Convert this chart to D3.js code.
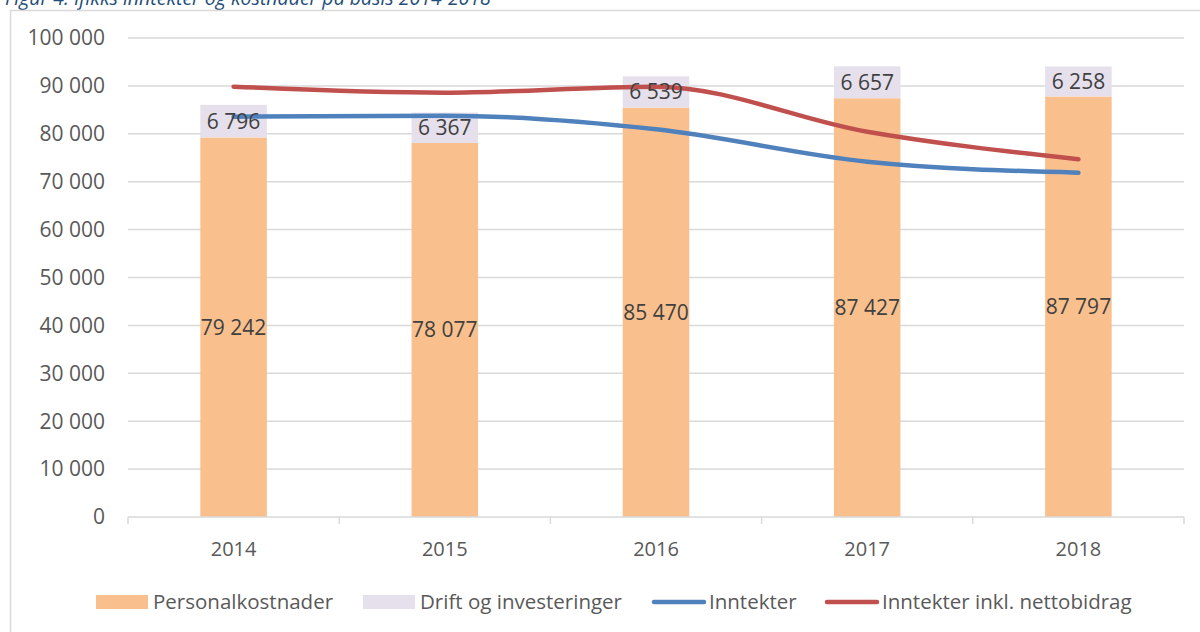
<!doctype html>
<head>
  <title>Ifikks inntekter og kostnader</title>
</head>
<style>
  body { margin: 0; background: #fff; }
  svg text { font-family: "Open Sans", sans-serif; }
</style>
<body>
  <script src="https://d3js.org/d3.v7.min.js"></script>
  <svg id="chart" width="1200" height="632"></svg>
  <script>

  const years = ["2014", "2015", "2016", "2017", "2018"];
  const personal = [79242, 78077, 85470, 87427, 87797];
  const drift = [6796, 6367, 6539, 6657, 6258];
  const inntekter = [83570, 83780, 80940, 74180, 71880];
  const inntekterNetto = [89840, 88580, 89840, 80440, 74680];
  const yTicks = [0, 10000, 20000, 30000, 40000, 50000, 60000, 70000, 80000, 90000, 100000];
  const seriesNames = ["Personalkostnader", "Drift og investeringer", "Inntekter", "Inntekter inkl. nettobidrag"];

  const colors = {personal: "#F9C08E", drift: "#E6E0EC", inn: "#4F81BD", netto: "#C0504D"};

  let svg = d3.select("#chart");

  // title, cut off at the top like the original
  svg.append("text")
    .attr("x", 5).attr("y", 5)
    .attr("fill", "#1F4E79")
    .attr("font-style", "italic")
    .attr("font-size", 19.5)
    .text("Figur 4. Ifikks inntekter og kostnader på basis 2014-2018");

  // chart border
  svg.append("rect")
    .attr("x", 10.5).attr("y", 10.5)
    .attr("width", 1200).attr("height", 700)
    .attr("fill", "none")
    .attr("stroke", "#D9D9D9")
    .attr("stroke-width", 1.5);

  let x = d3.scaleBand().domain(years).range([128, 1184]).padding(0);
  let y = d3.scaleLinear().domain([0, 100000]).range([517, 38]);
  let fmt = v => d3.format(",")(v).replace(/,/g, " ");

  // gridlines
  svg.append("g")
    .selectAll("line")
    .data(yTicks.slice(1))
    .enter()
    .append("line")
    .attr("x1", 128).attr("x2", 1184)
    .attr("y1", d => y(d)).attr("y2", d => y(d))
    .attr("stroke", "#D9D9D9")
    .attr("stroke-width", 1.5);

  // y axis labels
  svg.append("g")
    .selectAll("text")
    .data(yTicks)
    .enter()
    .append("text")
    .attr("x", 105)
    .attr("y", d => y(d))
    .attr("dy", "0.35em")
    .attr("text-anchor", "end")
    .attr("font-size", 21)
    .attr("fill", "#595959")
    .text(fmt);

  // bars
  let barW = x.bandwidth() * 0.315;
  let bars = svg.append("g");
  years.forEach((yr, i) => {
    let cx = x(yr) + x.bandwidth() / 2;
    bars.append("rect")
      .attr("x", cx - barW / 2).attr("width", barW)
      .attr("y", y(personal[i])).attr("height", y(0) - y(personal[i]))
      .attr("fill", colors.personal);
    bars.append("rect")
      .attr("x", cx - barW / 2).attr("width", barW)
      .attr("y", y(personal[i] + drift[i])).attr("height", y(personal[i]) - y(personal[i] + drift[i]))
      .attr("fill", colors.drift);
  });

  // x axis
  let xAxis = svg.append("g");
  xAxis.append("line")
    .attr("x1", 128).attr("x2", 1184)
    .attr("y1", 517).attr("y2", 517)
    .attr("stroke", "#D9D9D9").attr("stroke-width", 1.5);
  xAxis.selectAll("line.tick")
    .data(years.concat(["end"]))
    .enter()
    .append("line")
    .attr("class", "tick")
    .attr("x1", (d, i) => 128 + i * x.bandwidth())
    .attr("x2", (d, i) => 128 + i * x.bandwidth())
    .attr("y1", 517).attr("y2", 524)
    .attr("stroke", "#D9D9D9").attr("stroke-width", 1.5);
  xAxis.selectAll("text")
    .data(years)
    .enter()
    .append("text")
    .attr("x", d => x(d) + x.bandwidth() / 2)
    .attr("y", 549)
    .attr("dy", "0.35em")
    .attr("text-anchor", "middle")
    .attr("font-size", 20)
    .attr("fill", "#595959")
    .text(d => d);

  // lines
  let line = d3.line()
    .x((d, i) => x(years[i]) + x.bandwidth() / 2)
    .y(d => y(d))
    .curve(d3.curveMonotoneX);

  [[inntekter, colors.inn], [inntekterNetto, colors.netto]].forEach(s => {
    svg.append("path")
      .datum(s[0])
      .attr("d", line)
      .attr("fill", "none")
      .attr("stroke", s[1])
      .attr("stroke-width", 4.5)
      .attr("stroke-linecap", "round");
  });

  // data labels
  let labels = svg.append("g")
    .attr("font-size", 21)
    .attr("fill", "#404040")
    .attr("text-anchor", "middle");
  years.forEach((yr, i) => {
    let cx = x(yr) + x.bandwidth() / 2;
    labels.append("text")
      .attr("x", cx).attr("y", y(personal[i] / 2))
      .attr("dy", "0.35em")
      .text(fmt(personal[i]));
    labels.append("text")
      .attr("x", cx).attr("y", y(personal[i] + drift[i] / 2))
      .attr("dy", "0.35em")
      .text(fmt(drift[i]));
  });

  // legend
  let legend = svg.append("g");
  let lx = [96, 363, 652, 825];
  seriesNames.forEach((name, i) => {
    if (i < 2) {
      legend.append("rect")
        .attr("x", lx[i]).attr("y", 595)
        .attr("width", 52).attr("height", 14)
        .attr("fill", i == 0 ? colors.personal : colors.drift);
    } else {
      legend.append("line")
        .attr("x1", lx[i] + 2).attr("x2", lx[i] + 52)
        .attr("y1", 602).attr("y2", 602)
        .attr("stroke", i == 2 ? colors.inn : colors.netto)
        .attr("stroke-width", 4.5)
        .attr("stroke-linecap", "round");
    }
    legend.append("text")
      .attr("x", lx[i] + 57)
      .attr("y", 602)
      .attr("dy", "0.35em")
      .attr("font-size", 20.5)
      .attr("fill", "#595959")
      .text(name);
  });

  </script>
</body>
